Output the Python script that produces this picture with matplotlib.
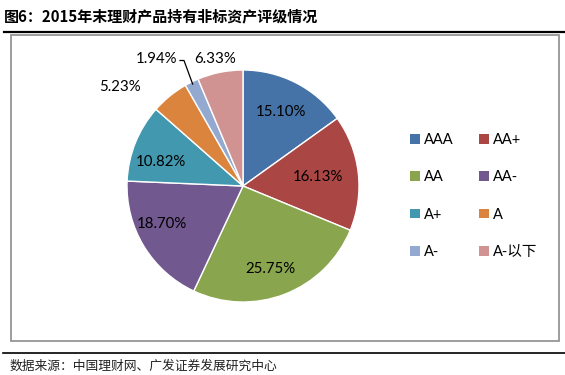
import matplotlib
matplotlib.use("Agg")
import matplotlib.pyplot as plt
from matplotlib.patches import Rectangle
from matplotlib.lines import Line2D
import numpy as np

plt.rcParams['font.family'] = ['Lato', 'Noto Sans CJK SC', 'DejaVu Sans']

categories = ["AAA", "AA+", "AA", "AA-", "A+", "A", "A-", "A-以下"]
values = [15.10, 16.13, 25.75, 18.70, 10.82, 5.23, 1.94, 6.33]
colors = ["#4572A7", "#AA4643", "#89A54E", "#71588F", "#4198AF", "#DB843D", "#93A9CF", "#D19392"]
title = "图6：2015年末理财产品持有非标资产评级情况"
source = "数据来源：中国理财网、广发证券发展研究中心"

W, H = 565, 375
fig = plt.figure(figsize=(W / 100, H / 100), dpi=100)
# pixel-coordinate overlay axes (y measured from top)
ax = fig.add_axes([0, 0, 1, 1])
ax.set_xlim(0, W)
ax.set_ylim(H, 0)
ax.axis('off')

# title and rules
ax.text(4, 16, title, fontsize=10.8, fontweight='bold', family=['Noto Sans CJK SC'],
        va='center', ha='left', color='black')
ax.add_line(Line2D([4, W], [32, 32], color='black', lw=1.6))
ax.add_patch(Rectangle((11, 35), 548, 306, fill=False, edgecolor='#8c8c8c', lw=1.2))
ax.add_line(Line2D([3, W], [353, 353], color='black', lw=1.2))
ax.text(10, 366, source, fontsize=9.2, family=['Noto Sans CJK SC'], va='center',
        ha='left', color='#222222')

# pie axes
cx, cy, r = 243, 186, 116
pax = fig.add_axes([0, 0, 1, 1])
pax.set_xlim(0, W)
pax.set_ylim(0, H)
pax.set_aspect('equal')
pax.axis('off')
wedges, _ = pax.pie(values, colors=colors, startangle=90, counterclock=False,
                    center=(cx, H - cy), radius=r,
                    wedgeprops=dict(edgecolor='white', linewidth=1.0))
pax.set_xlim(0, W)
pax.set_ylim(0, H)

# label placement: (radius factor, angle offset in degrees)
place = [(0.72, 0), (0.65, 0), (0.75, -3), (0.77, -6), (0.74, 6), (1.36, 12), (1.32, 8), (1.12, 1)]
for w, v, (rf, off) in zip(wedges, values, place):
    ang = np.deg2rad((w.theta1 + w.theta2) / 2 + off)
    x = cx + rf * r * np.cos(ang)
    y = H - cy + rf * r * np.sin(ang)
    pax.text(x, y, f"{v:.2f}%", ha='center', va='center', fontsize=10.8, color='black')

# leader line for A-
w = wedges[6]
ang = np.deg2rad((w.theta1 + w.theta2) / 2)
p_edge = (cx + r * 0.98 * np.cos(ang), H - cy + r * 0.98 * np.sin(ang))
pax.plot([180, 184, p_edge[0]], [H - 60.5, H - 60.5, p_edge[1]], color='black', lw=0.9)

# legend (row-wise order)
order = [0, 2, 4, 6, 1, 3, 5, 7]
leg = fig.legend([wedges[i] for i in order], [categories[i] for i in order],
                 ncol=2, loc='center', bbox_to_anchor=(474 / W, 1 - 196 / H),
                 frameon=False, fontsize=10.5, handlelength=0.65, handleheight=0.65,
                 handletextpad=0.3, labelspacing=1.6, columnspacing=1.75)
for t in leg.get_texts():
    t.set_family(['Lato', 'Noto Sans CJK SC'])
for h in leg.legend_handles:
    h.set_edgecolor('none')

fig.savefig("out.png", dpi=100)
